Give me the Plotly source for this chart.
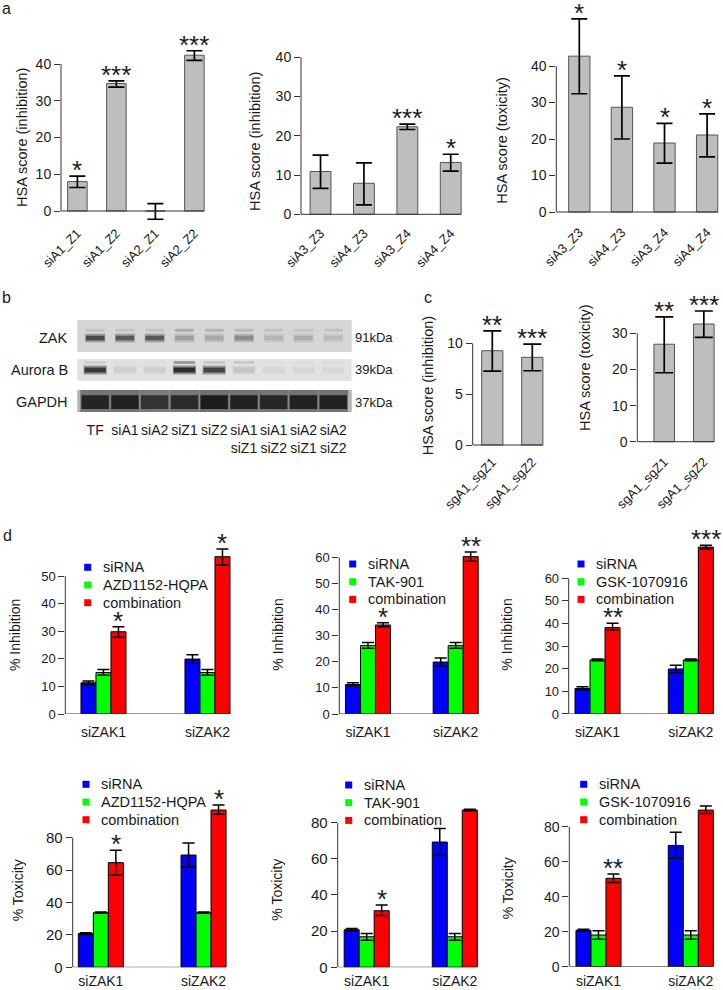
import plotly.graph_objects as go

W, H = 723, 990
FONT = "Liberation Sans, Arial, Helvetica, sans-serif"
INK = "#1a1a1a"
AXC = "#333333"
GRAY = "#bebebe"
BLUE, GREEN, RED = "#0000ff", "#00ff00", "#ff0000"

# ---------------- data: panel a ----------------
a1_labels = ["siA1_Z1", "siA1_Z2", "siA2_Z1", "siA2_Z2"]
a1_values = [8.0, 34.7, 0.0, 42.4]
a1_err_up = [1.5, 0.7, 2.0, 1.2]
a1_err_dn = [1.6, 1.0, 2.3, 1.4]
a1_sig = ["*", "***", "", "***"]

a2_labels = ["siA3_Z3", "siA4_Z3", "siA3_Z4", "siA4_Z4"]
a2_values = [10.9, 7.9, 22.3, 13.2]
a2_err_up = [4.2, 5.2, 0.7, 2.1]
a2_err_dn = [4.3, 5.5, 0.7, 2.2]
a2_sig = ["", "", "***", "*"]

a3_labels = ["siA3_Z3", "siA4_Z3", "siA3_Z4", "siA4_Z4"]
a3_values = [42.7, 28.7, 18.9, 21.1]
a3_err_up = [10.2, 8.6, 5.4, 5.8]
a3_err_dn = [10.3, 8.7, 5.5, 6.0]
a3_sig = ["*", "*", "*", "*"]

# ---------------- data: panel c ----------------
c1_labels = ["sgA1_sgZ1", "sgA1_sgZ2"]
c1_values = [9.28, 8.63]
c1_err_up = [1.95, 1.3]
c1_err_dn = [2.0, 1.32]
c1_sig = ["**", "***"]

c2_labels = ["sgA1_sgZ1", "sgA1_sgZ2"]
c2_values = [27.0, 32.6]
c2_err_up = [7.6, 3.6]
c2_err_dn = [7.9, 3.7]
c2_sig = ["**", "***"]

# ---------------- data: panel b (western blot) ----------------
blot_lanes = ["TF", "siA1", "siA2", "siZ1", "siZ2",
              "siA1<br>siZ1", "siA1<br>siZ2", "siA2<br>siZ1", "siA2<br>siZ2"]
blot_proteins = ["ZAK", "Aurora B", "GAPDH"]
blot_kda = ["91kDa", "39kDa", "37kDa"]
zak_band = [0.75, 0.68, 0.68, 0.30, 0.25, 0.40, 0.18, 0.22, 0.14]
zak_upper = [0.10, 0.10, 0.10, 0.22, 0.18, 0.15, 0.10, 0.10, 0.10]
aurora_band = [0.85, 0.10, 0.10, 0.92, 0.80, 0.15, 0.06, 0.05, 0.05]
aurora_upper = [0.10, 0.02, 0.02, 0.35, 0.12, 0.12, 0.02, 0.02, 0.02]
gapdh_band = [0.95, 0.97, 0.85, 0.90, 1.00, 0.97, 0.93, 0.97, 0.97]

# ---------------- data: panel d ----------------
d_groups = ["siZAK1", "siZAK2"]
d_drugs = ["AZD1152-HQPA", "TAK-901", "GSK-1070916"]

inh_sirna = [11.3, 19.9]
inh_sirna_up = [0.7, 1.6]
inh_sirna_dn = [0.6, 1.5]
inh_drug = [[15.0, 15.0], [26.2, 26.2], [23.9, 23.9]]
inh_drug_up = [[1.1, 1.1], [1.2, 1.2], [0.4, 0.4]]
inh_drug_dn = [[1.0, 1.0], [1.0, 1.0], [0.4, 0.4]]
inh_comb = [[29.8, 57.0], [34.1, 60.3], [38.2, 73.8]]
inh_comb_up = [[1.8, 2.8], [0.9, 1.8], [1.9, 0.8]]
inh_comb_dn = [[2.0, 3.0], [0.7, 1.8], [1.1, 0.8]]
inh_sig = [["*", "*"], ["*", "**"], ["**", "***"]]

tox_sirna = [20.8, 69.3]
tox_sirna_up = [0.6, 7.5]
tox_sirna_dn = [0.6, 7.3]
tox_drug = [[33.7, 33.7], [16.9, 16.9], [18.1, 18.1]]
tox_drug_up = [[0.4, 0.4], [1.8, 1.8], [2.5, 2.5]]
tox_drug_dn = [[0.4, 0.4], [1.9, 1.9], [2.4, 2.4]]
tox_comb = [[64.6, 97.1], [31.3, 87.0], [50.5, 89.5]]
tox_comb_up = [[7.6, 3.1], [3.2, 0.4], [2.5, 2.3]]
tox_comb_dn = [[7.6, 2.7], [2.7, 0.4], [2.4, 1.9]]
tox_sig = [["*", "*"], ["*", ""], ["**", ""]]

# ---------------- figure helpers ----------------
fig = go.Figure()
LAY = {}
shapes = []
annos = []


def ref(n, letter):
    return letter if n == 1 else f"{letter}{n}"


def axname(n, letter):
    return f"{letter}axis" if n == 1 else f"{letter}axis{n}"


def make_axes(n, ax_px, x_range, x_ppu, y0_px, y_ppu, y_range, y_ticks,
              tickfont=14, xfont=13, xangle=0, standoff=2):
    x_dom = [ax_px / W, min(1.0, (ax_px + (x_range[1] - x_range[0]) * x_ppu) / W)]
    yb = y0_px - y_range[0] * y_ppu
    yt = y0_px - y_range[1] * y_ppu
    y_dom = [1 - yb / H, 1 - yt / H]
    xr, yr = ref(n, "x"), ref(n, "y")
    LAY[axname(n, "x")] = dict(domain=x_dom, range=x_range, anchor=yr, type="category",
                               showline=False, showgrid=False, zeroline=False, ticks="",
                               tickangle=xangle, tickfont=dict(size=xfont),
                               ticklabelstandoff=standoff, fixedrange=True, automargin=False)
    LAY[axname(n, "y")] = dict(domain=y_dom, range=y_range, anchor=xr,
                               showline=False, showgrid=False, zeroline=False,
                               ticks="outside", ticklen=6, tickwidth=1, tickcolor=AXC,
                               tickvals=y_ticks, tickfont=dict(size=tickfont), fixedrange=True,
                               automargin=False)
    shapes.append(dict(type="line", xref=f"{xr} domain", x0=0, x1=0, yref=yr,
                       y0=y_ticks[0], y1=y_ticks[-1], line=dict(color=AXC, width=1)))


def baseline(n, x0, x1):
    shapes.append(dict(type="line", xref=ref(n, "x"), yref=ref(n, "y"), x0=x0, x1=x1,
                       y0=0, y1=0, line=dict(color=AXC, width=1)))


def star(n, x, y, s):
    if s:
        annos.append(dict(x=x, y=y, xref=ref(n, "x"), yref=ref(n, "y"), text=s,
                          showarrow=False, yanchor="bottom", yshift=-11,
                          font=dict(size=26, color=INK)))


def ytitle(text, xpx, ypx, size):
    annos.append(dict(x=xpx / W, y=1 - ypx / H, xref="paper", yref="paper", text=text,
                      textangle=-90, showarrow=False, xanchor="center", yanchor="middle",
                      font=dict(size=size, color=INK)))


def simple_panel(n, labels, values, up, dn, sig, bw, cap, x_range):
    xr, yr = ref(n, "x"), ref(n, "y")
    fig.add_trace(go.Bar(x=labels, y=values, width=bw,
                         marker=dict(color=GRAY, line=dict(color="#555555", width=1)),
                         error_y=dict(type="data", array=up, arrayminus=dn, color="black",
                                      thickness=1.7, width=cap),
                         xaxis=xr, yaxis=yr, showlegend=False, hoverinfo="skip"))
    for i, s in enumerate(sig):
        star(n, i, values[i] + up[i], s)
    baseline(n, x_range[0], len(labels) - 1 + bw / 2)


LEG_ROW = 17.7   # legend row spacing (px)
LEG_SQ = 7       # legend swatch size (px)


def group_panel(n, drug, vals, ups, dns, sig, w, x_range, leg_x, leg_y):
    xr, yr = ref(n, "x"), ref(n, "y")
    names = ["siRNA", drug, "combination"]
    colors = [BLUE, GREEN, RED]
    for k in range(3):
        fig.add_trace(go.Bar(x=d_groups, y=vals[k], width=w, offset=(k - 1.5) * w,
                             marker=dict(color=colors[k], line=dict(color="black", width=1)),
                             error_y=dict(type="data", array=ups[k], arrayminus=dns[k],
                                          color="black", thickness=1.5, width=6),
                             xaxis=xr, yaxis=yr, showlegend=False, hoverinfo="skip",
                             name=names[k]))
    for i, s in enumerate(sig):
        star(n, i + w, vals[2][i] + ups[2][i], s)
    baseline(n, x_range[0], len(d_groups) - 1 + 1.5 * w)
    # legend: swatch + label
    for k in range(3):
        yc = leg_y + k * LEG_ROW
        sx = leg_x - 14
        shapes.append(dict(type="rect", xref="paper", yref="paper",
                           x0=(sx - LEG_SQ / 2) / W, x1=(sx + LEG_SQ / 2) / W,
                           y0=1 - (yc + LEG_SQ / 2) / H, y1=1 - (yc - LEG_SQ / 2) / H,
                           fillcolor=colors[k], line=dict(width=0)))
        annos.append(dict(x=leg_x / W, y=1 - yc / H, xref="paper", yref="paper",
                          text=names[k], showarrow=False, xanchor="left", yanchor="middle",
                          xshift=-1, font=dict(size=14.5, color=INK)))


# ---------------- panel a ----------------
r = [-0.42, 3.5]
make_axes(1, 61, r, 39, 211, 3.675, [-2.5, 52], [0, 10, 20, 30, 40], xangle=-45)
simple_panel(1, a1_labels, a1_values, a1_err_up, a1_err_dn, a1_sig, 0.5, 8, r)
ytitle("HSA score (inhibition)", 22, 138, 14.5)

r = [-0.45, 3.5]
make_axes(2, 301, r, 43.4, 214.3, 3.925, [-1.5, 50], [0, 10, 20, 30, 40], xangle=-45)
simple_panel(2, a2_labels, a2_values, a2_err_up, a2_err_dn, a2_sig, 0.48, 8, r)
ytitle("HSA score (inhibition)", 255, 142, 14.5)

r = [-0.54, 3.35]
make_axes(3, 556.3, r, 42.6, 212, 3.65, [-2, 55], [0, 10, 20, 30, 40], xangle=-45)
simple_panel(3, a3_labels, a3_values, a3_err_up, a3_err_dn, a3_sig, 0.5, 8, r)
ytitle("HSA score (toxicity)", 501.7, 140, 14.5)

# ---------------- panel c ----------------
r = [-0.49, 1.5]
make_axes(4, 472.7, r, 40, 445, 10.16, [-0.4, 13], [0, 5, 10], xangle=-45)
simple_panel(4, c1_labels, c1_values, c1_err_up, c1_err_dn, c1_sig, 0.53, 9, r)
ytitle("HSA score (inhibition)", 428.3, 386, 14.5)

r = [-0.68, 1.45]
make_axes(5, 637.3, r, 39.6, 441.7, 3.61, [-2, 40], [0, 10, 20, 30], xangle=-45)
simple_panel(5, c2_labels, c2_values, c2_err_up, c2_err_dn, c2_sig, 0.52, 9, r)
ytitle("HSA score (toxicity)", 585, 368, 14.5)

# ---------------- panel b (blot) ----------------
strip_px = [(320, 352), (359, 381), (390, 412)]
strip_bg = [(214, 214, 214), (226, 226, 226), (180, 180, 180)]
dark = (28, 28, 28)
main_bands = [zak_band, aurora_band, gapdh_band]
upper_bands = [zak_upper, aurora_upper, None]
band_center = [0.44, 0.50, 0.45]
band_thick = [0.14, 0.22, 0.62]
band_width = [0.62, 0.72, 0.92]
upper_center = [0.68, 0.86, None]
lane_range = [-0.6, 8.62]
lane_x = list(range(len(blot_lanes)))


def shade(bg, t):
    c = [round(bg[j] + (dark[j] - bg[j]) * t) for j in range(3)]
    return f"rgb({c[0]},{c[1]},{c[2]})"


for s in range(3):
    n = 6 + s
    xr, yr = ref(n, "x"), ref(n, "y")
    top, bot = strip_px[s]
    LAY[axname(n, "x")] = dict(domain=[77.3 / W, 351.7 / W], range=lane_range, anchor=yr,
                               showline=False, showgrid=False, zeroline=False, ticks="",
                               showticklabels=(s == 2), tickmode="array", tickvals=lane_x,
                               ticktext=blot_lanes, tickangle=0,
                               tickfont=dict(size=14), ticklabelstandoff=8, fixedrange=True,
                               automargin=False)
    LAY[axname(n, "y")] = dict(domain=[1 - bot / H, 1 - top / H], range=[0, 1], anchor=xr,
                               visible=False, fixedrange=True)
    bg = strip_bg[s]
    shapes.append(dict(type="rect", xref=f"{xr} domain", yref=f"{yr} domain", x0=0, x1=1,
                       y0=0, y1=1, fillcolor=f"rgb{bg}", line=dict(width=0), layer="below"))
    # soft halo + core band
    for layer_scale, alpha in [(1.9, 0.45), (1.0, 1.0)]:
        th = band_thick[s] * layer_scale
        fig.add_trace(go.Bar(x=lane_x, y=[th] * len(lane_x),
                             base=[band_center[s] - th / 2] * len(lane_x),
                             width=band_width[s] * (1.08 if layer_scale > 1 else 1.0),
                             marker=dict(color=[shade(bg, v * alpha) for v in main_bands[s]],
                                         line=dict(width=0)),
                             xaxis=xr, yaxis=yr, showlegend=False, hoverinfo="skip"))
    if upper_bands[s] is not None:
        th = 0.09
        fig.add_trace(go.Bar(x=lane_x, y=[th] * len(lane_x),
                             base=[upper_center[s] - th / 2] * len(lane_x),
                             width=band_width[s],
                             marker=dict(color=[shade(bg, v) for v in upper_bands[s]],
                                         line=dict(width=0)),
                             xaxis=xr, yaxis=yr, showlegend=False, hoverinfo="skip"))
    ymid = top + (bot - top) * (1 - band_center[s])
    annos.append(dict(x=70 / W, y=1 - ymid / H, xref="paper", yref="paper",
                      text=blot_proteins[s], showarrow=False, xanchor="right",
                      yanchor="middle", font=dict(size=14.5, color=INK)))
    annos.append(dict(x=353 / W, y=1 - ymid / H, xref="paper", yref="paper",
                      text=blot_kda[s], showarrow=False, xanchor="left",
                      yanchor="middle", font=dict(size=13, color=INK)))

# ---------------- panel d ----------------
d_specs = [
    # n, axis px, ppu_x, range, y0, ppu_y, yrange, ticks, leg_x, leg_y, font
    (9, 65.3, 104.0, [-0.367, 1.35], 714, 2.76, [0, 62], [0, 10, 20, 30, 40, 50], 101.7, 567.3, 13),
    (10, 339.3, 87.7, [-0.327, 1.3], 714, 2.61, [0, 65], [0, 10, 20, 30, 40, 50, 60], 366.7, 564, 13),
    (11, 568.7, 93.3, [-0.309, 1.3], 714, 2.262, [0, 77], [0, 10, 20, 30, 40, 50, 60], 595, 564, 13),
    (12, 72.7, 102.7, [-0.274, 1.3], 967.3, 1.62, [0, 103], [0, 20, 40, 60, 80], 100, 784.3, 15),
    (13, 337.7, 88.1, [-0.329, 1.3], 967.3, 1.8075, [0, 90], [0, 20, 40, 60, 80], 362.7, 785, 15),
    (14, 569.3, 92.3, [-0.316, 1.3], 966.7, 1.75, [0, 95], [0, 20, 40, 60, 80], 597.7, 784.3, 14),
]
for idx, (n, axp, ppx, r, y0, ppy, yrg, tks, lx, ly, fsz) in enumerate(d_specs):
    make_axes(n, axp, r, ppx, y0, ppy, yrg, tks, tickfont=fsz, xfont=14,
              standoff=(8 if idx < 3 else 4))
    w = 15.0 / ppx
    k = idx % 3
    if idx < 3:
        vals = [inh_sirna, inh_drug[k], inh_comb[k]]
        ups = [inh_sirna_up, inh_drug_up[k], inh_comb_up[k]]
        dns = [inh_sirna_dn, inh_drug_dn[k], inh_comb_dn[k]]
        sig = inh_sig[k]
    else:
        vals = [tox_sirna, tox_drug[k], tox_comb[k]]
        ups = [tox_sirna_up, tox_drug_up[k], tox_comb_up[k]]
        dns = [tox_sirna_dn, tox_drug_dn[k], tox_comb_dn[k]]
        sig = tox_sig[k]
    group_panel(n, d_drugs[k], vals, ups, dns, sig, w, r, lx, ly)

ytitle("% Inhibition", 15, 635, 14)
ytitle("% Inhibition", 277.7, 635, 14)
ytitle("% Inhibition", 506.7, 635, 14)
ytitle("% Toxicity", 18.3, 890, 14)
ytitle("% Toxicity", 276.7, 890, 14)
ytitle("% Toxicity", 508.3, 888, 14)

# ---------------- panel letters ----------------
for letter, xpx, ypx in [("a", 6, 8), ("b", 6, 297), ("c", 428, 298), ("d", 7, 535)]:
    annos.append(dict(x=xpx / W, y=1 - ypx / H, xref="paper", yref="paper", text=letter,
                      showarrow=False, xanchor="center", yanchor="middle",
                      font=dict(size=16, color=INK)))

fig.update_layout(
    width=W, height=H, autosize=False,
    margin=dict(l=0, r=0, t=0, b=0, pad=0, autoexpand=False),
    paper_bgcolor="white", plot_bgcolor="white",
    font=dict(family=FONT, color=INK, size=13),
    barmode="overlay", showlegend=False,
    shapes=shapes, annotations=annos,
    **LAY,
)
fig.write_html("out.html", config={"displayModeBar": False},
               post_script="document.body.style.margin='0px';document.body.style.overflow='hidden';")
